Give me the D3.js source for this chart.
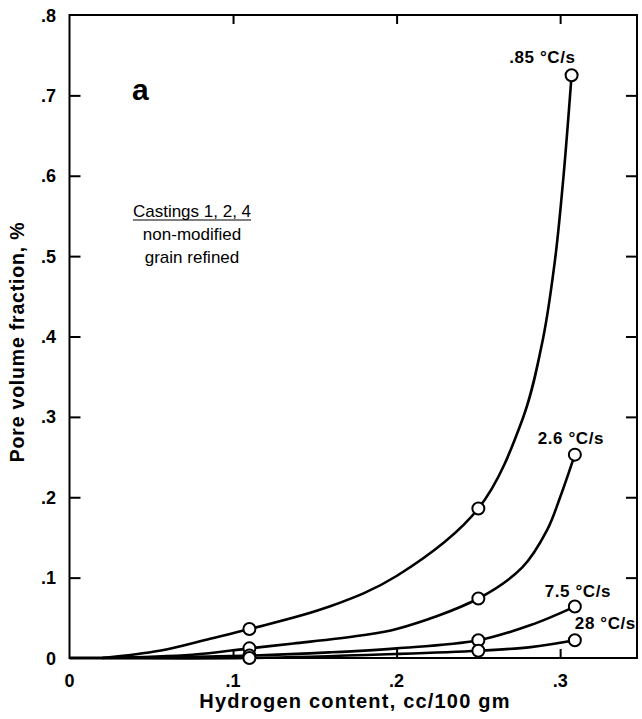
<!DOCTYPE html>
<html>
<head>
<meta charset="utf-8">
<script src="https://cdn.jsdelivr.net/npm/d3@7/dist/d3.min.js"></script>
<style>
  html, body { margin: 0; padding: 0; background: #fff; }
  svg { display: block; }
  text { font-family: "Liberation Sans", Arial, Helvetica, sans-serif; fill: #000; }
</style>
</head>
<body>
<svg id="chart" width="642" height="719"></svg>
<script>
// ---- data ----
const seriesNames = [".85 °C/s", "2.6 °C/s", "7.5 °C/s", "28 °C/s"];
// measured points (open circles)
const hydrogen085 = [0.11, 0.25, 0.307];
const pore085     = [0.036, 0.186, 0.725];
const hydrogen26  = [0.11, 0.25, 0.309];
const pore26      = [0.012, 0.074, 0.253];
const hydrogen75  = [0.11, 0.25, 0.309];
const pore75      = [0.003, 0.022, 0.064];
const hydrogen28  = [0.11, 0.25, 0.309];
const pore28      = [0.0, 0.009, 0.022];
// positions
const trace085x = [0.02, 0.055, 0.086, 0.11, 0.159, 0.2, 0.25, 0.277, 0.2895, 0.297, 0.302, 0.307];
const trace085y = [0, 0.009, 0.024, 0.036, 0.064, 0.102, 0.186, 0.297, 0.397, 0.4975, 0.598, 0.725];
const trace26x  = [0.02, 0.075, 0.11, 0.137, 0.178, 0.2, 0.25, 0.277, 0.292, 0.3, 0.309];
const trace26y  = [0, 0.004, 0.012, 0.018, 0.028, 0.036, 0.074, 0.113, 0.159, 0.2, 0.253];
const trace75x  = [0.02, 0.11, 0.159, 0.2, 0.25, 0.282, 0.309];
const trace75y  = [0, 0.003, 0.007, 0.012, 0.022, 0.041, 0.064];
const trace28x  = [0.02, 0.11, 0.2, 0.25, 0.282, 0.309];
const trace28y  = [0, 0.0, 0.005, 0.009, 0.0135, 0.022];
const xTicks = [0, 0.1, 0.2, 0.3];
const xTickLabels = ["0", ".1", ".2", ".3"];
const yTicks = [0, 0.1, 0.2, 0.3, 0.4, 0.5, 0.6, 0.7, 0.8];
const yTickLabels = ["0", ".1", ".2", ".3", ".4", ".5", ".6", ".7", ".8"];
const xDomain = [0, 0.347];
const yDomain = [0, 0.8];
const panelLetter = "a";
const noteLines = ["Castings 1, 2, 4", "non-modified", "grain refined"];
const xTitle = "Hydrogen content, cc/100 gm";
const yTitle = "Pore volume fraction, %";

const seriesData = [
  {name: seriesNames[0], xs: hydrogen085, ys: pore085, tx: trace085x, ty: trace085y},
  {name: seriesNames[1], xs: hydrogen26,  ys: pore26,  tx: trace26x,  ty: trace26y},
  {name: seriesNames[2], xs: hydrogen75,  ys: pore75,  tx: trace75x,  ty: trace75y},
  {name: seriesNames[3], xs: hydrogen28,  ys: pore28,  tx: trace28x,  ty: trace28y}
];

// ---- layout ----
const mLeft = 69.5, mRight = 637, mTop = 15, mBottom = 658;
const svg = d3.select("#chart");
const x = d3.scaleLinear().domain(xDomain).range([mLeft, mRight]);
const y = d3.scaleLinear().domain(yDomain).range([mBottom, mTop]);

// frame
svg.append("rect")
  .attr("x", mLeft).attr("y", mTop)
  .attr("width", mRight - mLeft).attr("height", mBottom - mTop)
  .attr("fill", "none").attr("stroke", "#000").attr("stroke-width", 2);

// inward ticks with d3 axes
const tickLen = 11;
const gB = svg.append("g").attr("transform", `translate(0,${mBottom})`)
  .call(d3.axisTop(x).tickValues(xTicks.slice(1)).tickSize(9).tickFormat(""));
const gT = svg.append("g").attr("transform", `translate(0,${mTop})`)
  .call(d3.axisBottom(x).tickValues(xTicks.slice(1)).tickSize(9).tickFormat(""));
const gL = svg.append("g").attr("transform", `translate(${mLeft},0)`)
  .call(d3.axisRight(y).tickValues(yTicks.slice(1, -1)).tickSize(tickLen).tickFormat(""));
const gR = svg.append("g").attr("transform", `translate(${mRight},0)`)
  .call(d3.axisLeft(y).tickValues(yTicks.slice(1, -1)).tickSize(tickLen).tickFormat(""));
[gB, gT, gL, gR].forEach(g => {
  g.select(".domain").remove();
  g.selectAll(".tick line").attr("stroke", "#000").attr("stroke-width", 2);
});

// tick labels
svg.append("g").selectAll("text").data(xTicks).join("text")
  .attr("x", d => x(d)).attr("y", 687)
  .attr("text-anchor", "middle")
  .attr("font-size", 18).attr("font-weight", "bold")
  .text((d, i) => xTickLabels[i]);
svg.append("g").selectAll("text").data(yTicks).join("text")
  .attr("x", 56).attr("y", d => y(d) + 6.5)
  .attr("text-anchor", "end")
  .attr("font-size", 18).attr("font-weight", "bold")
  .text((d, i) => yTickLabels[i]);

// axis titles
svg.append("text")
  .attr("x", 355).attr("y", 708)
  .attr("text-anchor", "middle")
  .attr("font-size", 20).attr("font-weight", "bold")
  .attr("letter-spacing", 1.2)
  .text(xTitle);
svg.append("text")
  .attr("transform", "translate(24,342) rotate(-90)")
  .attr("text-anchor", "middle")
  .attr("font-size", 19.5).attr("font-weight", "bold")
  .attr("letter-spacing", 0.8)
  .text(yTitle);

// panel letter
svg.append("text")
  .attr("x", 132).attr("y", 100)
  .attr("font-size", 30).attr("font-weight", "bold")
  .text(panelLetter);

// note
const note = svg.append("g");
note.selectAll("text").data(noteLines).join("text")
  .attr("x", 192).attr("y", (d, i) => 217 + i * 23)
  .attr("text-anchor", "middle")
  .attr("font-size", 17)
  .text(d => d);
const firstNote = note.select("text").node().getBBox();
note.append("line")
  .attr("x1", firstNote.x).attr("x2", firstNote.x + firstNote.width)
  .attr("y1", 220).attr("y2", 220)
  .attr("stroke", "#000").attr("stroke-width", 1.2);

// curves
const line = d3.line().x(d => x(d[0])).y(d => y(d[1])).curve(d3.curveCatmullRom.alpha(0.5));
seriesData.forEach(s => {
  const pts = s.tx.map((v, i) => [v, s.ty[i]]);
  svg.append("path").datum(pts)
    .attr("d", line)
    .attr("fill", "none").attr("stroke", "#000").attr("stroke-width", 2.6)
    .attr("stroke-linejoin", "round");
});
// axis-hugging start segment
svg.append("line")
  .attr("x1", x(0)).attr("x2", x(trace085x[0]))
  .attr("y1", y(0)).attr("y2", y(0))
  .attr("stroke", "#000").attr("stroke-width", 3);

// markers
seriesData.forEach(s => {
  svg.append("g").selectAll("circle").data(s.xs.map((v, i) => [v, s.ys[i]])).join("circle")
    .attr("cx", d => x(d[0])).attr("cy", d => y(d[1])).attr("r", 6)
    .attr("fill", "#fff").attr("stroke", "#000").attr("stroke-width", 2);
});

// series labels, anchored to each series' last point
const labelStyle = [
  {dx: 4, dy: -12, anchor: "end"},
  {dx: -4, dy: -11, anchor: "middle"},
  {dx: 3, dy: -10, anchor: "middle"},
  {dx: 0, dy: -11, anchor: "start"}
];
seriesData.forEach((s, i) => {
  const n = s.xs.length - 1;
  svg.append("text")
    .attr("x", x(s.xs[n]) + labelStyle[i].dx)
    .attr("y", y(s.ys[n]) + labelStyle[i].dy)
    .attr("text-anchor", labelStyle[i].anchor)
    .attr("font-size", 17).attr("font-weight", "bold")
    .attr("letter-spacing", 0.6)
    .text(s.name);
});
</script>
</body>
</html>
